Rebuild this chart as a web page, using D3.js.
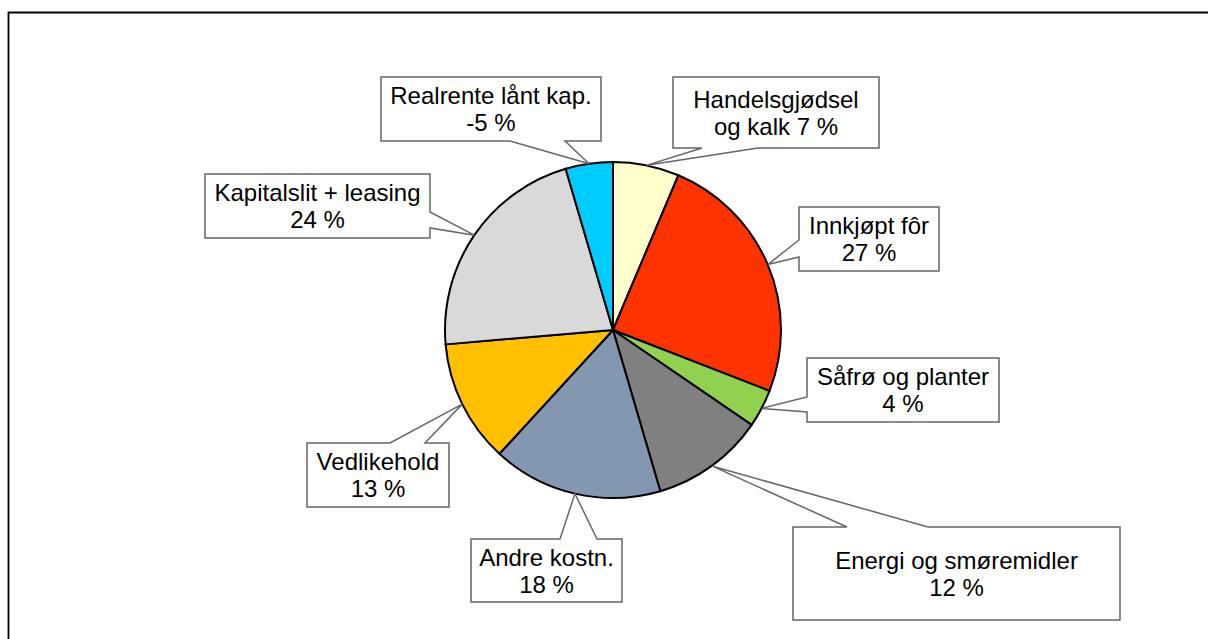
<!DOCTYPE html>
<html>
<head>
<meta charset="utf-8">
<script src="https://cdnjs.cloudflare.com/ajax/libs/d3/7.8.5/d3.min.js"></script>
<style>
  html, body { margin: 0; padding: 0; background: #fff; overflow: hidden; }
  svg { display: block; }
  svg text { font-family: "Liberation Sans", Arial, sans-serif; font-size: 24px; fill: #000; }
</style>
</head>
<body>
<div id="chart"></div>
<script>
// data
var categories = ["Handelsgjødsel\nog kalk", "Innkjøpt fôr", "Såfrø og planter", "Energi og smøremidler",
                  "Andre kostn.", "Vedlikehold", "Kapitalslit + leasing", "Realrente lånt kap."];
var values = [7, 27, 4, 12, 18, 13, 24, -5];
var colors = ["#FFFFCC", "#FF3300", "#92D050", "#808080", "#8497B0", "#FFC000", "#D9D9D9", "#00CCFF"];

// callout boxes: x, y, w, h, side the pointer leaves from, pointer base start/end along that side
var callouts = [
    {x: 673, y: 77,  w: 206, h: 71, side: "bottom", a: 702, b: 758},
    {x: 799, y: 207, w: 140, h: 64, side: "left",   a: 240, b: 257},
    {x: 807, y: 358, w: 192, h: 64, side: "left",   a: 397, b: 412},
    {x: 793, y: 527, w: 327, h: 93, side: "top",    a: 847, b: 928},
    {x: 471, y: 539, w: 151, h: 63, side: "top",    a: 560, b: 597},
    {x: 307, y: 443, w: 142, h: 64, side: "top",    a: 390, b: 425},
    {x: 205, y: 174, w: 225, h: 64, side: "right",  a: 212, b: 228},
    {x: 381, y: 77,  w: 220, h: 64, side: "bottom", a: 510, b: 565}
];

var width = 1208, height = 639,
    cx = 613, cy = 330, radius = 168;

var svg = d3.select("#chart").append("svg")
    .attr("width", width)
    .attr("height", height);

// outer frame (runs off the page on the right and bottom)
svg.append("path")
    .attr("d", "M8.5," + height + "V12.5H" + width)
    .attr("fill", "none")
    .attr("stroke", "#000")
    .attr("stroke-width", 1.8);

var pie = d3.pie()
    .sort(null)
    .value(function(d) { return Math.abs(d); });

var arcs = pie(values);

var arc = d3.arc().innerRadius(0).outerRadius(radius);
var edge = d3.arc().innerRadius(radius).outerRadius(radius);

var g = svg.append("g").attr("transform", "translate(" + cx + "," + cy + ")");

g.selectAll("path.slice")
    .data(arcs)
    .enter().append("path")
    .attr("class", "slice")
    .attr("d", arc)
    .attr("fill", function(d, i) { return colors[i]; })
    .attr("stroke", "#000")
    .attr("stroke-width", 2)
    .attr("stroke-linejoin", "round");

function calloutPath(c, tx, ty) {
    var x0 = c.x, y0 = c.y, x1 = c.x + c.w, y1 = c.y + c.h;
    var p = "M" + x0 + "," + y0;
    if (c.side == "top") p += "L" + c.a + "," + y0 + "L" + tx + "," + ty + "L" + c.b + "," + y0;
    p += "L" + x1 + "," + y0;
    if (c.side == "right") p += "L" + x1 + "," + c.a + "L" + tx + "," + ty + "L" + x1 + "," + c.b;
    p += "L" + x1 + "," + y1;
    if (c.side == "bottom") p += "L" + c.b + "," + y1 + "L" + tx + "," + ty + "L" + c.a + "," + y1;
    p += "L" + x0 + "," + y1;
    if (c.side == "left") p += "L" + x0 + "," + c.b + "L" + tx + "," + ty + "L" + x0 + "," + c.a;
    return p + "Z";
}

var labels = svg.selectAll("g.label")
    .data(arcs)
    .enter().append("g")
    .attr("class", "label");

labels.append("path")
    .attr("d", function(d, i) {
        var t = edge.centroid(d);
        return calloutPath(callouts[i], cx + t[0], cy + t[1]);
    })
    .attr("fill", "#fff")
    .attr("stroke", "#666")
    .attr("stroke-width", 1.5)
    .attr("stroke-linejoin", "miter");

labels.each(function(d, i) {
    var c = callouts[i],
        mid = c.y + c.h / 2,
        name = categories[i].split("\n"),
        pct = values[i] + " %",
        lines = name.length > 1 ? [name[0], name[1] + " " + pct] : [name[0], pct];
    var text = d3.select(this).append("text")
        .attr("text-anchor", "middle");
    text.append("tspan")
        .attr("x", c.x + c.w / 2)
        .attr("y", mid - 5)
        .text(lines[0]);
    text.append("tspan")
        .attr("x", c.x + c.w / 2)
        .attr("y", mid + 22)
        .text(lines[1]);
});
</script>
</body>
</html>
